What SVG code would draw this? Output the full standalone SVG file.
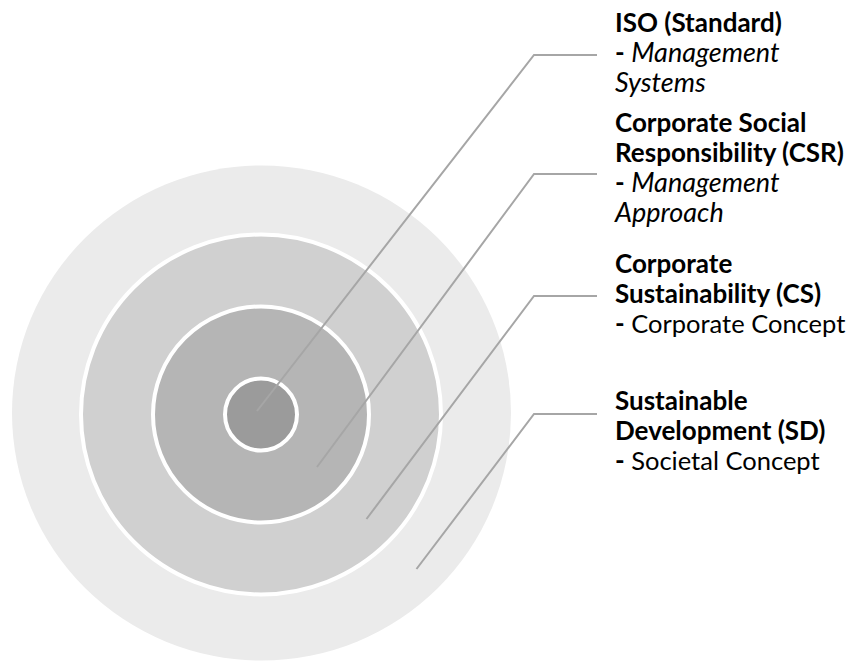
<svg xmlns="http://www.w3.org/2000/svg" width="849" height="662" viewBox="0 0 849 662">
<style>
.ring{stroke:#ffffff;stroke-width:4}
.conn{fill:none;stroke:#a6a6a6;stroke-width:2}
text{font-family:Lato,"Liberation Sans",sans-serif;font-size:25.5px;fill:#000000}
.b{font-weight:bold;font-size:26px}
.i{font-style:italic;font-size:27px}
</style>
<rect width="849" height="662" fill="#ffffff"/>
<g id="sd-circle"><ellipse cx="261.5" cy="413" rx="249.5" ry="247.5" fill="#ebebeb"/></g>
<g id="cs-circle"><circle class="ring" cx="261" cy="414.5" r="180" fill="#d0d0d0"/></g>
<g id="csr-circle"><circle class="ring" cx="261" cy="414.5" r="108" fill="#b5b5b5"/></g>
<g id="iso-circle"><circle class="ring" cx="261" cy="414.5" r="36" fill="#9b9b9b"/></g>
<g id="connectors">
<polyline class="conn" points="257,411 534,55 597,55"/>
<polyline class="conn" points="317,467 534,174 597,174"/>
<polyline class="conn" points="366.5,519 534,296 597,296"/>
<polyline class="conn" points="416.5,569 534,414 597,414"/>
</g>
<g id="iso-label">
<text x="615" y="32" class="b">ISO (Standard)</text>
<text x="615" y="62"><tspan class="b">-</tspan> <tspan class="i">Management</tspan></text>
<text x="615" y="92" class="i">Systems</text>
</g>
<g id="csr-label">
<text x="615" y="132" class="b">Corporate Social</text>
<text x="615" y="162" class="b">Responsibility (CSR)</text>
<text x="615" y="192"><tspan class="b">-</tspan> <tspan class="i">Management</tspan></text>
<text x="615" y="222" class="i">Approach</text>
</g>
<g id="cs-label">
<text x="615" y="273" class="b">Corporate</text>
<text x="615" y="303" class="b">Sustainability (CS)</text>
<text x="615" y="333"><tspan class="b">-</tspan> Corporate Concept</text>
</g>
<g id="sd-label">
<text x="615" y="410" class="b">Sustainable</text>
<text x="615" y="440" class="b">Development (SD)</text>
<text x="615" y="470"><tspan class="b">-</tspan> Societal Concept</text>
</g>
</svg>
